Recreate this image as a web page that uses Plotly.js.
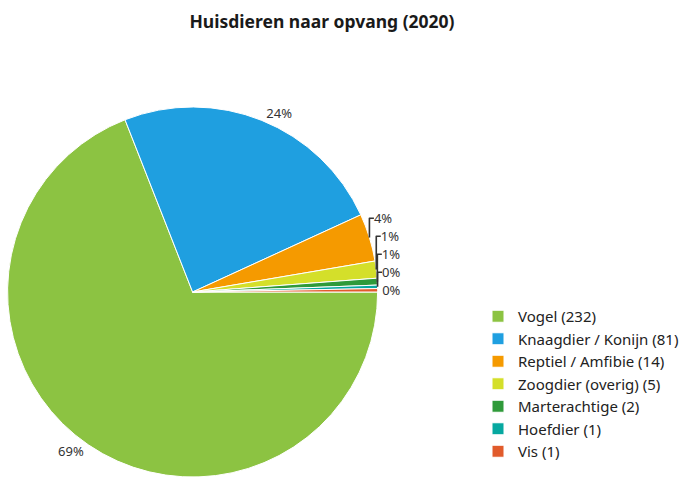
<!DOCTYPE html>
<html>
<head>
<meta charset="utf-8">
<script src="https://cdn.plot.ly/plotly-3.0.1.min.js"></script>
<style>html,body{margin:0;padding:0;background:#fff;width:684px;height:480px;overflow:hidden;}#chart{width:684px;height:487px;}</style>
</head>
<body>
<div id="chart"></div>
<script>
const categories = ["Vogel", "Knaagdier / Konijn", "Reptiel / Amfibie", "Zoogdier (overig)", "Marterachtige", "Hoefdier", "Vis"];
const counts = [232, 81, 14, 5, 2, 1, 1];
const colors = ["#8cc342", "#1f9fe0", "#f59a00", "#d4df2a", "#2f9a3a", "#06a8a0", "#e15b2b"];

const legendLabels = categories.map((c, i) => c + " (" + counts[i] + ")");

const H = 487;

const trace = {
  type: "pie",
  labels: legendLabels,
  values: counts,
  sort: false,
  direction: "clockwise",
  rotation: 90,
  marker: {colors: colors, line: {color: "#ffffff", width: 1}},
  textposition: "outside",
  texttemplate: "%{percent:.0%}",
  textfont: {family: "Noto Sans, sans-serif", size: 13, color: "#333333"},
  outsidetextfont: {family: "Noto Sans, sans-serif", size: 13, color: "#333333"},
  hoverinfo: "label+percent",
  domain: {x: [8/684, 398/684], y: [0, 390/H]},
  automargin: false
};

const layout = {
  width: 684,
  height: H,
  margin: {l: 0, r: 0, t: 0, b: 0},
  paper_bgcolor: "#ffffff",
  font: {family: "Noto Sans, sans-serif", color: "#222222"},
  title: {
    text: "<b>Huisdieren naar opvang (2020)</b>",
    x: 322/684, xanchor: "center",
    y: 1 - 22/H, yanchor: "middle",
    font: {size: 17.5, color: "#1a1a1a", family: "Noto Sans, sans-serif"}
  },
  showlegend: true,
  legend: {
    x: 504/684, xanchor: "left",
    y: 1 - 300/H, yanchor: "top",
    font: {size: 15, color: "#222222", family: "Noto Sans, sans-serif"},
    itemwidth: 30,
    traceorder: "normal",
    itemclick: false
  }
};

Plotly.newPlot("chart", [trace], layout, {displayModeBar: false, staticPlot: true});
</script>
</body>
</html>
